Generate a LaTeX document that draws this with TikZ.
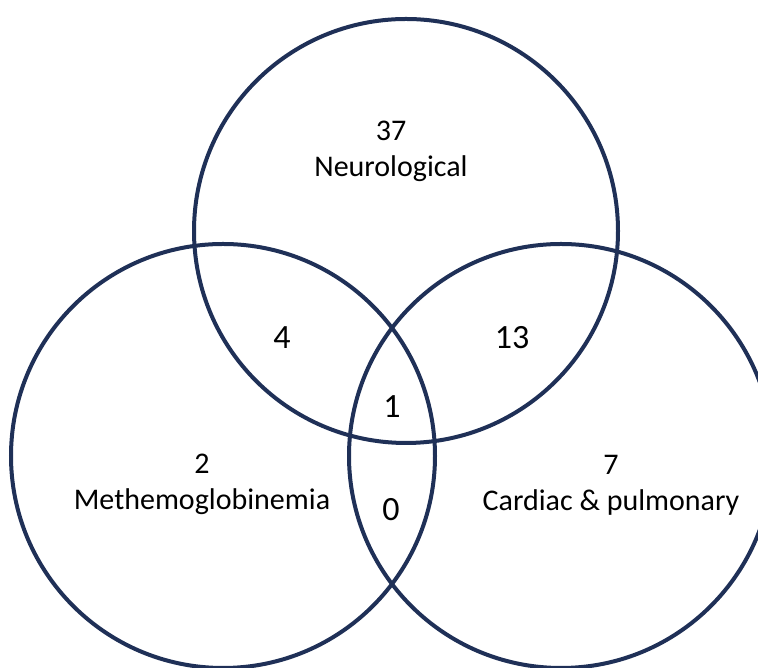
\documentclass[tikz,border=0pt]{standalone}
\usepackage{fontspec}
\setmainfont{Carlito}
\usepackage{tikz}
\usetikzlibrary{positioning}
\definecolor{setblue}{RGB}{31,48,87}

\begin{document}
\begin{tikzpicture}[x=1pt, y=1pt]
        % Define styles
        \tikzstyle{set} = [circle, draw=setblue, line width=4pt, minimum size=424pt, inner sep=0pt]
        \tikzstyle{count} = [align=center, font=\fontsize{30}{36}\selectfont, text=black]
        \tikzstyle{overlap} = [font=\fontsize{34}{40}\selectfont, text=black]

        \useasboundingbox (0,0) rectangle (758,668);

        % Circles
        \node (neuro) [set] at (406,437) {};
        \node (methb) [set] at (223,212) {};
        \node (cardio) [set] at (561,212) {};

        % Labels
        \node (nlab) [count] at (391,517) {37\\Neurological};
        \node (mlab) [count] at (202,184) {2\\Methemoglobinemia};
        \node (clab) [count] at (611,183) {7\\Cardiac \& pulmonary};
        \node (nm) [overlap] at (282,330) {4};
        \node (nc) [overlap] at (512,330) {13};
        \node (all) [overlap] at (392,261) {1};
        \node (mc) [overlap] at (391,158) {0};
\end{tikzpicture}
\end{document}
